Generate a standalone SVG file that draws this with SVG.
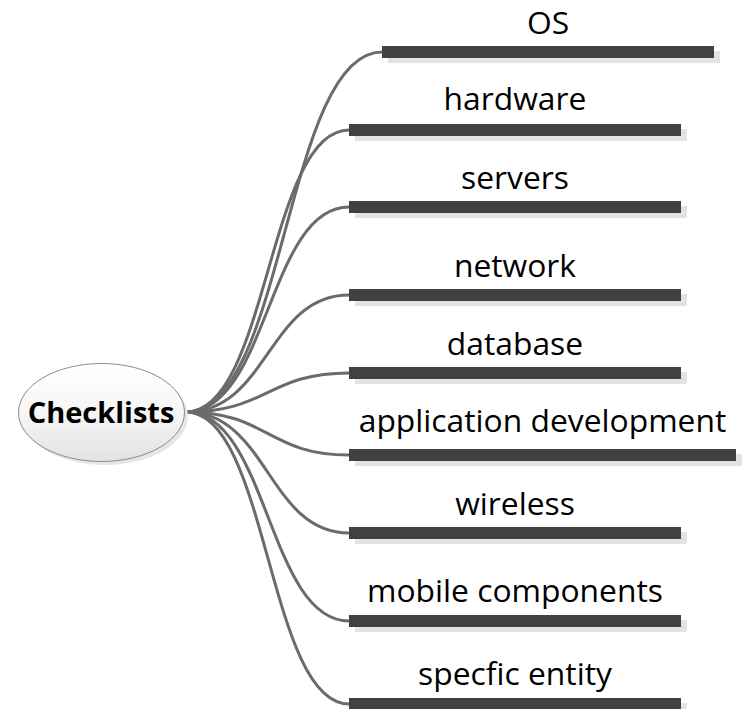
<svg xmlns="http://www.w3.org/2000/svg" width="745" height="709" viewBox="0 0 745 709">
<defs>
<linearGradient id="eg" x1="0" y1="0" x2="0" y2="1">
<stop offset="0" stop-color="#ffffff"/>
<stop offset="0.5" stop-color="#f6f6f6"/>
<stop offset="1" stop-color="#e2e2e2"/>
</linearGradient>
</defs>
<style>
.bar{fill:#414141}
.sh{fill:#e3e3e3}
.lbl{font-family:"Open Sans","Liberation Sans",sans-serif;font-size:31.8px;fill:#000;text-anchor:middle}
.root{font-family:"Open Sans","Liberation Sans",sans-serif;font-size:29px;font-weight:bold;fill:#000;text-anchor:middle}
.con{fill:none;stroke:#6b6b6b;stroke-width:3}
</style>
<rect width="745" height="709" fill="#fff"/>
<g id="connectors">
<path class="con" d="M186,412 C285,412 285,52 382,52"/>
<path class="con" d="M186,412 C268,412 268,130 349,130"/>
<path class="con" d="M186,412 C268,412 268,207 349,207"/>
<path class="con" d="M186,412 C268,412 268,295 349,295"/>
<path class="con" d="M186,412 C268,412 268,373 349,373"/>
<path class="con" d="M186,412 C268,412 268,455 349,455"/>
<path class="con" d="M186,412 C268,412 268,533 349,533"/>
<path class="con" d="M186,412 C268,412 268,621 349,621"/>
<path class="con" d="M186,412 C268,412 268,704 349,704"/>
</g>
<g id="root">
<ellipse cx="105" cy="416" rx="83" ry="49" fill="#e6e6e6"/>
<ellipse cx="101.5" cy="412.5" rx="83" ry="49" fill="url(#eg)" stroke="#8a8a8a" stroke-width="1"/>
<text class="root" x="101" y="423">Checklists</text>
</g>
<g id="n-os">
<rect class="sh" x="388" y="51" width="332" height="12"/>
<rect class="bar" x="382" y="46" width="332" height="12"/>
<text class="lbl" x="548" y="34">OS</text>
</g>
<g id="n-hardware">
<rect class="sh" x="355" y="129" width="332" height="12"/>
<rect class="bar" x="349" y="124" width="332" height="12"/>
<text class="lbl" x="515" y="110">hardware</text>
</g>
<g id="n-servers">
<rect class="sh" x="355" y="206" width="332" height="12"/>
<rect class="bar" x="349" y="201" width="332" height="12"/>
<text class="lbl" x="515" y="189">servers</text>
</g>
<g id="n-network">
<rect class="sh" x="355" y="294" width="332" height="12"/>
<rect class="bar" x="349" y="289" width="332" height="12"/>
<text class="lbl" x="515" y="277">network</text>
</g>
<g id="n-database">
<rect class="sh" x="355" y="372" width="332" height="12"/>
<rect class="bar" x="349" y="367" width="332" height="12"/>
<text class="lbl" x="515" y="355">database</text>
</g>
<g id="n-appdev">
<rect class="sh" x="355" y="454" width="387" height="12"/>
<rect class="bar" x="349" y="449" width="387" height="12"/>
<text class="lbl" x="542.5" y="432">application development</text>
</g>
<g id="n-wireless">
<rect class="sh" x="355" y="532" width="332" height="12"/>
<rect class="bar" x="349" y="527" width="332" height="12"/>
<text class="lbl" x="515" y="515">wireless</text>
</g>
<g id="n-mobile">
<rect class="sh" x="355" y="620" width="332" height="12"/>
<rect class="bar" x="349" y="615" width="332" height="12"/>
<text class="lbl" x="515" y="602">mobile components</text>
</g>
<g id="n-entity">
<rect class="sh" x="355" y="703" width="332" height="12"/>
<rect class="bar" x="349" y="698" width="332" height="12"/>
<text class="lbl" x="515" y="685">specfic entity</text>
</g>
</svg>
